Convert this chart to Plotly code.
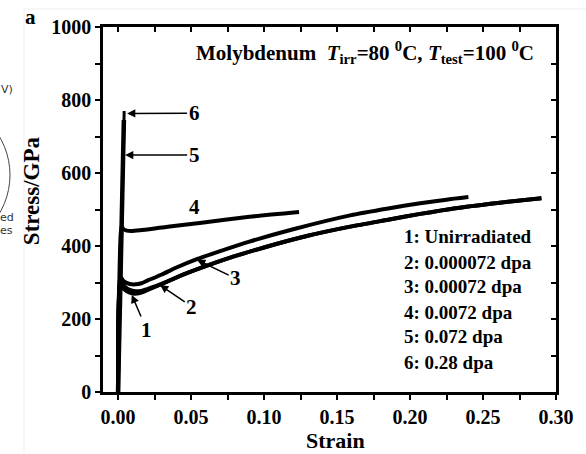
import plotly.graph_objects as go

# ---------------- data ----------------
strain_1 = [0, 0.0016, 0.004, 0.008, 0.011, 0.015, 0.02, 0.03, 0.045, 0.061, 0.08, 0.10, 0.13, 0.159, 0.185, 0.207, 0.23, 0.26, 0.29]
stress_1 = [0, 295, 282, 272, 269, 271, 279, 296, 322, 346, 372, 396, 428, 453, 472, 488, 503, 518, 531]

strain_2 = [0, 0.0017, 0.004, 0.008, 0.012, 0.016, 0.02, 0.03, 0.045, 0.061, 0.08, 0.10, 0.13, 0.159, 0.185, 0.207, 0.23, 0.26, 0.29]
stress_2 = [0, 305, 291, 280, 276, 277, 282, 296, 322, 346, 372, 396, 428, 453, 472, 488, 503, 518, 531]

strain_3 = [0, 0.0017, 0.004, 0.008, 0.012, 0.016, 0.02, 0.03, 0.04, 0.054, 0.07, 0.09, 0.12, 0.159, 0.185, 0.207, 0.225, 0.24]
stress_3 = [0, 315, 303, 296, 295, 298, 305, 322, 341, 364, 386, 412, 446, 484, 503, 517, 527, 534]

strain_4 = [0, 0.0024, 0.0035, 0.006, 0.009, 0.015, 0.025, 0.034, 0.056, 0.09, 0.124]
stress_4 = [0, 455, 447, 442, 441, 443, 448, 453, 463, 480, 493]

strain_5 = [0, 0.0040]
stress_5 = [0, 745]

strain_6 = [0, 0.0042]
stress_6 = [0, 770]

legend_labels = ["1: Unirradiated", "2: 0.000072 dpa", "3: 0.00072 dpa",
                 "4: 0.0072 dpa", "5: 0.072 dpa", "6: 0.28 dpa"]

x_tickvals = [0, 0.05, 0.10, 0.15, 0.20, 0.25, 0.30]
x_ticktext = ["0.00", "0.05", "0.10", "0.15", "0.20", "0.25", "0.30"]
y_tickvals = [0, 200, 400, 600, 800, 1000]
y_ticktext = ["0", "200", "400", "600", "800", "1000"]

# ---------------- figure ----------------
SERIF = "Liberation Serif"
fig = go.Figure()

curves = [(strain_1, stress_1), (strain_2, stress_2), (strain_3, stress_3),
          (strain_4, stress_4), (strain_5, stress_5), (strain_6, stress_6)]
widths = [4, 4, 4, 4, 4.5, 3]
for (sx, sy), w in zip(curves, widths):
    fig.add_trace(go.Scatter(x=sx, y=sy, mode="lines",
                             line=dict(color="black", width=w, shape="spline", smoothing=0.6),
                             showlegend=False, hoverinfo="skip"))

# invisible trace for mirrored axes
fig.add_trace(go.Scatter(x=[0], y=[0], xaxis="x2", yaxis="y2", mode="markers",
                         marker=dict(opacity=0), showlegend=False, hoverinfo="skip"))

tickfont = dict(family=SERIF, size=20, color="black", weight="bold")
XR = [-0.0103, 0.30]
YR = [0, 1000]

fig.update_layout(
    width=586, height=454,
    margin=dict(l=103, r=30, t=27, b=62),
    paper_bgcolor="white", plot_bgcolor="white",
    xaxis=dict(range=XR, tickvals=x_tickvals, ticktext=x_ticktext,
               ticks="outside", ticklen=5, tickwidth=2, tickcolor="black",
               minor=dict(dtick=0.025, tick0=0, ticks="outside", ticklen=5, tickwidth=2,
                          tickcolor="black", showgrid=False),
               showline=True, linecolor="black", linewidth=2.5,
               showgrid=False, zeroline=False, tickfont=tickfont),
    yaxis=dict(range=YR, tickvals=y_tickvals, ticktext=y_ticktext,
               ticks="outside", ticklen=5, tickwidth=2, tickcolor="black",
               minor=dict(dtick=100, tick0=0, ticks="outside", ticklen=5, tickwidth=2,
                          tickcolor="black", showgrid=False),
               showline=True, linecolor="black", linewidth=2.5,
               showgrid=False, zeroline=False, tickfont=tickfont),
    xaxis2=dict(range=XR, overlaying="x", side="top", dtick=0.025, tick0=0,
                showticklabels=False, ticks="inside", ticklen=5, tickwidth=2,
                tickcolor="black", showline=True, linecolor="black", linewidth=2.5,
                showgrid=False, zeroline=False),
    yaxis2=dict(range=YR, overlaying="y", side="right", dtick=100, tick0=0,
                showticklabels=False, ticks="inside", ticklen=5, tickwidth=2,
                tickcolor="black", showline=True, linecolor="black", linewidth=2.5,
                showgrid=False, zeroline=False),
)

def ann(text, x, y, size=20, xanchor="center", ref="data", **kw):
    d = dict(text=text, x=x, y=y, showarrow=False, xanchor=xanchor, yanchor="middle",
             font=dict(family=SERIF, size=size, color="black", weight="bold"))
    if ref == "paper":
        d.update(xref="paper", yref="paper")
    else:
        d.update(xref="x", yref="y")
    d.update(kw)
    fig.add_annotation(**d)

# Axis titles
ann("Strain", 0.514, -0.132, size=22, ref="paper")
ann("Stress/GPa", -0.159, 0.553, size=23, ref="paper", textangle=-90)
ann("a", -0.161, 1.027, size=21, ref="paper")

# Header
ann("Molybdenum  <i>T</i><sub>irr</sub>=80 <sup>0</sup>C, <i>T</i><sub>test</sub>=100 <sup>0</sup>C",
    0.169, 929, size=21)

# Legend block
leg_y = [427, 356, 288, 219, 151, 82]
for t, yy in zip(legend_labels, leg_y):
    ann(t, 0.1945, yy, size=19, xanchor="left")

# Curve labels with arrows
arrow_labels = [
    ("6", 0.0521, 764, 0.0062, 763),
    ("5", 0.0521, 649, 0.0048, 649),
    ("3", 0.0806, 311, 0.0541, 362),
    ("2", 0.0505, 234, 0.0288, 293),
    ("1", 0.0197, 170, 0.0094, 266),
]
for t, lx, ly, tx, ty in arrow_labels:
    fig.add_annotation(text=t, x=tx, y=ty, ax=lx, ay=ly, xref="x", yref="y",
                       axref="x", ayref="y", showarrow=True, arrowhead=2,
                       arrowsize=1.1, arrowwidth=1.5, arrowcolor="black",
                       font=dict(family=SERIF, size=21, color="black", weight="bold"))
ann("4", 0.0527, 507, size=21)

# fragments of neighbouring panel at far left
def px2paper(px, py):
    return (px - 103) / 453, (392 - py) / 365

for t, px, py in [("V)", 15, 90), ("ed", 16, 218), ("es", 15, 231)]:
    xp, yp = px2paper(px, py)
    fig.add_annotation(text=t, x=xp, y=yp, xref="paper", yref="paper", showarrow=False,
                       xanchor="right", yanchor="middle",
                       font=dict(family="DejaVu Sans", size=11, color="#333333"))

cx, cy, r = -65, 175, 75
x0, y0 = px2paper(cx - r, cy + r)
x1, y1 = px2paper(cx + r, cy - r)
fig.add_shape(type="circle", xref="paper", yref="paper", x0=x0, y0=y0, x1=x1, y1=y1,
              line=dict(color="#444444", width=1))

# faint page border lines
bx, _ = px2paper(24, 0)
fig.add_shape(type="line", xref="paper", yref="paper", x0=bx, x1=bx,
              y0=px2paper(0, 454)[1], y1=px2paper(0, 9)[1],
              line=dict(color="#eeeeee", width=1))
fig.add_shape(type="line", xref="paper", yref="paper", x0=bx, x1=px2paper(586, 0)[0],
              y0=px2paper(0, 9)[1], y1=px2paper(0, 9)[1],
              line=dict(color="#eeeeee", width=1))

fig.write_html("out.html")
